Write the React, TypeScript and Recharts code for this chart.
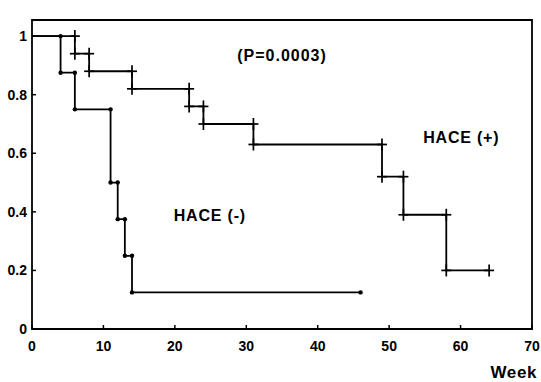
import React from "react";
import {
  ComposedChart,
  Line,
  Scatter,
  XAxis,
  YAxis,
  ReferenceArea,
  ReferenceDot,
  Label,
} from "recharts";

// HACE (+) Kaplan-Meier steps
const plusWeeks = [0, 6, 8, 14, 22, 24, 31, 49, 52, 58, 64];
const plusSurv = [1, 0.94, 0.88, 0.82, 0.76, 0.7, 0.63, 0.52, 0.39, 0.2, 0.2];

// HACE (-) Kaplan-Meier steps
const minusWeeks = [0, 4, 6, 11, 12, 13, 14, 46];
const minusSurv = [1, 0.875, 0.75, 0.5, 0.375, 0.25, 0.125, 0.125];

const xTicks = [0, 10, 20, 30, 40, 50, 60, 70];
const yTicks = [0, 0.2, 0.4, 0.6, 0.8, 1];
const yTickLabels = ["0", "0.2", "0.4", "0.6", "0.8", "1"];

const FONT = "'Liberation Sans', Arial, Helvetica, sans-serif";

const plusLine = plusWeeks.map((t, i) => ({ t, s: plusSurv[i] }));
const minusLine = minusWeeks.map((t, i) => ({ t, s: minusSurv[i] }));

// marks at both ends of every drop, plus the last point
function stepMarks(weeks: number[], surv: number[]) {
  const out: { t: number; s: number }[] = [];
  for (let i = 1; i < weeks.length; i++) {
    if (surv[i] !== surv[i - 1]) {
      out.push({ t: weeks[i], s: surv[i - 1] });
      out.push({ t: weeks[i], s: surv[i] });
    }
  }
  out.push({ t: weeks[weeks.length - 1], s: surv[surv.length - 1] });
  return out;
}

const plusMarks = stepMarks(plusWeeks, plusSurv);
const minusMarks = stepMarks(minusWeeks, minusSurv);

const Cross = (props: any) => {
  const { cx, cy } = props;
  if (cx == null || cy == null) return null;
  return (
    <g stroke="#000" strokeWidth={1.7}>
      <line x1={cx - 5} y1={cy} x2={cx + 5} y2={cy} />
      <line x1={cx} y1={cy - 6} x2={cx} y2={cy + 6} />
    </g>
  );
};

const Dot = (props: any) => {
  const { cx, cy } = props;
  if (cx == null || cy == null) return null;
  return <circle cx={cx} cy={cy} r={2.2} fill="#000" />;
};

const YTick = (props: any) => {
  const { x, y, payload } = props;
  const idx = yTicks.indexOf(payload.value);
  return (
    <g>
      <line x1={x} y1={y} x2={x + 4} y2={y} stroke="#000" strokeWidth={1.5} />
      <text
        x={x - 5}
        y={y}
        textAnchor="end"
        dominantBaseline="central"
        fontFamily={FONT}
        fontWeight="bold"
        fontSize={14}
        fill="#000"
      >
        {idx >= 0 ? yTickLabels[idx] : payload.value}
      </text>
    </g>
  );
};

const XTick = (props: any) => {
  const { x, y, payload } = props;
  return (
    <g>
      <line x1={x} y1={y} x2={x} y2={y - 4} stroke="#000" strokeWidth={1.5} />
      <text
        x={x}
        y={y + 17}
        textAnchor="middle"
        dominantBaseline="central"
        fontFamily={FONT}
        fontWeight="bold"
        fontSize={14}
        fill="#000"
      >
        {payload.value}
      </text>
    </g>
  );
};

const textStyle = {
  fontFamily: FONT,
  fontWeight: "bold" as const,
  fill: "#000",
};

export default function App() {
  return (
    <div style={{ position: "absolute", left: 0, top: 0, background: "#fff" }}>
      <ComposedChart
        width={541}
        height={382}
        margin={{ top: 20, right: 9, left: 0, bottom: 0 }}
      >
        <XAxis
          type="number"
          dataKey="t"
          domain={[0, 70]}
          ticks={xTicks}
          interval={0}
          height={53}
          axisLine={false}
          tickLine={false}
          tickSize={0}
          tickMargin={0}
          tick={<XTick />}
          allowDataOverflow
        >
          <Label
            content={() => (
              <text
                x={537}
                y={372}
                textAnchor="end"
                dominantBaseline="central"
                fontSize={17}
                letterSpacing={0.6}
                {...textStyle}
              >
                Week
              </text>
            )}
          />
        </XAxis>
        <YAxis
          type="number"
          dataKey="s"
          domain={[0, 1.055]}
          ticks={yTicks}
          interval={0}
          width={32}
          axisLine={false}
          tickLine={false}
          tickSize={0}
          tickMargin={0}
          tick={<YTick />}
          allowDataOverflow
        />
        <ReferenceArea
          x1={0}
          x2={70}
          y1={0}
          y2={1.055}
          fill="none"
          stroke="#000"
          strokeWidth={1.8}
          ifOverflow="visible"
        />
        <Line
          data={minusLine}
          dataKey="s"
          type="stepAfter"
          stroke="#000"
          strokeWidth={1.8}
          dot={false}
          activeDot={false}
          isAnimationActive={false}
        />
        <Line
          data={plusLine}
          dataKey="s"
          type="stepAfter"
          stroke="#000"
          strokeWidth={1.8}
          dot={false}
          activeDot={false}
          isAnimationActive={false}
        />
        <Scatter
          data={minusMarks}
          dataKey="s"
          shape={<Dot />}
          isAnimationActive={false}
        />
        <Scatter
          data={plusMarks}
          dataKey="s"
          shape={<Cross />}
          isAnimationActive={false}
        />
        <ReferenceDot x={35} y={0.935} r={0} ifOverflow="visible">
          <Label
            position="center"
            value="(P=0.0003)"
            fontSize={16}
            letterSpacing={1}
            {...textStyle}
          />
        </ReferenceDot>
        <ReferenceDot x={60.1} y={0.655} r={0} ifOverflow="visible">
          <Label
            position="center"
            value="HACE (+)"
            fontSize={16}
            letterSpacing={0.8}
            {...textStyle}
          />
        </ReferenceDot>
        <ReferenceDot x={24.9} y={0.389} r={0} ifOverflow="visible">
          <Label
            position="center"
            value="HACE (-)"
            fontSize={16}
            letterSpacing={0.8}
            {...textStyle}
          />
        </ReferenceDot>
      </ComposedChart>
    </div>
  );
}
